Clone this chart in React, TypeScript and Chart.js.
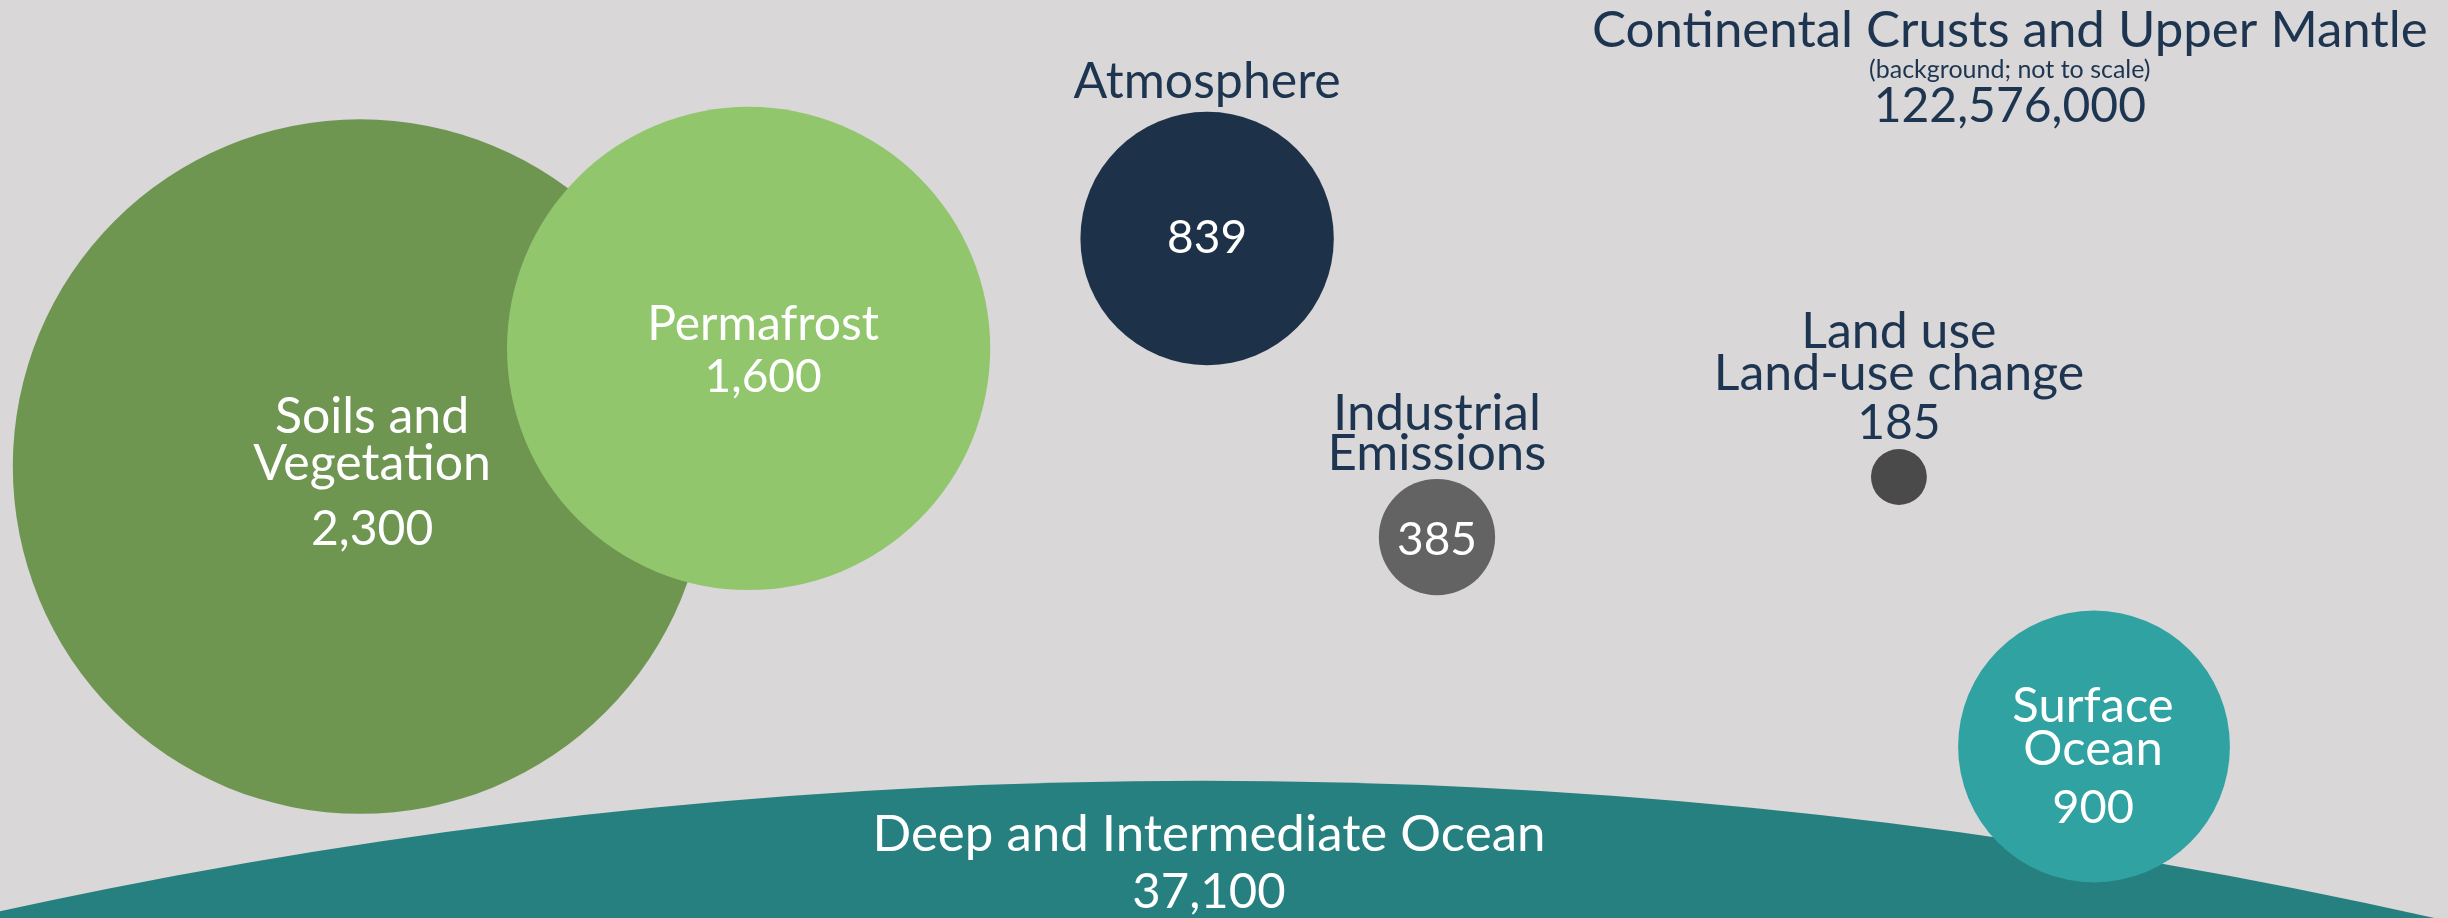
import { useEffect, useRef } from "react";
import { Chart, registerables } from "chart.js";

Chart.register(...registerables);

// ---- data ----
const reservoirNames = [
  "Deep and Intermediate Ocean",
  "Soils and Vegetation",
  "Permafrost",
  "Atmosphere",
  "Industrial Emissions",
  "Land use Land-use change",
  "Surface Ocean",
];
const nameLines = [
  ["Deep and Intermediate Ocean"],
  ["Soils and", "Vegetation"],
  ["Permafrost"],
  ["Atmosphere"],
  ["Industrial", "Emissions"],
  ["Land use", "Land-use change"],
  ["Surface", "Ocean"],
];
const carbonStocks = [37100, 2300, 1600, 839, 385, 185, 900];
const valueLabels = ["37,100", "2,300", "1,600", "839", "385", "185", "900"];
// layout position of each bubble (x: 0-100 across, y: 0-100 down)
const layoutX = [49.1, 14.71, 30.58, 49.31, 58.7, 77.57, 85.54];
const layoutY = [695.3, 50.82, 37.96, 25.98, 58.5, 51.96, 81.32];

const backgroundTitle = "Continental Crusts and Upper Mantle";
const backgroundNote = "(background; not to scale)";
const backgroundValue = "122,576,000";

// ---- styles ----
const BG = "#D9D7D8";
const NAVY = "#1D3550";
const WHITE = "#FFFFFF";
const bubbleColors = ["#25807F", "#6E9651", "#92C66C", "#1D3149", "#636363", "#4A4A4A", "#30A2A2"];
const PX_PER_UNIT = 0.151; // bubble radius in px per unit of stock
const FONT = "Lato, 'Open Sans', sans-serif";

type Line = { text: string; ref: "center" | "top"; dy: number; color: string; size: number };

function labelSpec(i: number): { dx: number; lines: Line[] } {
  const n = nameLines[i];
  const v = valueLabels[i];
  switch (i) {
    case 0:
      return { dx: 7, lines: [
        { text: n[0], ref: "top", dy: 70, color: WHITE, size: 51 },
        { text: v, ref: "top", dy: 127, color: WHITE, size: 49 },
      ] };
    case 1:
      return { dx: 12, lines: [
        { text: n[0], ref: "center", dy: -33.5, color: WHITE, size: 50 },
        { text: n[1], ref: "center", dy: 13.5, color: WHITE, size: 50 },
        { text: v, ref: "center", dy: 78.5, color: WHITE, size: 48 },
      ] };
    case 2:
      return { dx: 14.5, lines: [
        { text: n[0], ref: "center", dy: -8.5, color: WHITE, size: 48 },
        { text: v, ref: "center", dy: 43.5, color: WHITE, size: 46 },
      ] };
    case 3:
      return { dx: 0, lines: [
        { text: n[0], ref: "top", dy: -13.5, color: NAVY, size: 50 },
        { text: v, ref: "center", dy: 14.5, color: WHITE, size: 46 },
      ] };
    case 4:
      return { dx: 0, lines: [
        { text: n[0], ref: "top", dy: -49, color: NAVY, size: 51 },
        { text: n[1], ref: "top", dy: -9, color: NAVY, size: 51 },
        { text: v, ref: "center", dy: 18, color: WHITE, size: 46 },
      ] };
    case 5:
      return { dx: 0, lines: [
        { text: n[0], ref: "top", dy: -101, color: NAVY, size: 50 },
        { text: n[1], ref: "top", dy: -59, color: NAVY, size: 50 },
        { text: v, ref: "top", dy: -10, color: NAVY, size: 48 },
      ] };
    default:
      return { dx: -1, lines: [
        { text: n[0], ref: "center", dy: -24.5, color: WHITE, size: 49 },
        { text: n[1], ref: "center", dy: 18.5, color: WHITE, size: 49 },
        { text: v, ref: "center", dy: 76.5, color: WHITE, size: 47 },
      ] };
  }
}

function drawText(ctx: CanvasRenderingContext2D, text: string, x: number, y: number, size: number, color: string) {
  ctx.save();
  ctx.font = `${size}px ${FONT}`;
  ctx.fillStyle = color;
  ctx.textAlign = "center";
  ctx.textBaseline = "alphabetic";
  ctx.fillText(text, x, y);
  ctx.restore();
}

const backgroundPlugin = {
  id: "bgFill",
  beforeDraw(chart: any) {
    const { ctx, width, height } = chart;
    ctx.save();
    ctx.fillStyle = BG;
    ctx.fillRect(0, 0, width, height);
    ctx.restore();
  },
};

const labelsPlugin = {
  id: "reservoirLabels",
  afterDatasetsDraw(chart: any) {
    const ctx = chart.ctx as CanvasRenderingContext2D;
    const area = chart.chartArea;
    const w = area.right - area.left;
    const cx = area.left + w * 0.821;
    drawText(ctx, backgroundTitle, cx, area.top + 47, 51, NAVY);
    drawText(ctx, backgroundNote, cx, area.top + 78, 25, NAVY);
    drawText(ctx, backgroundValue, cx, area.top + 122, 48, NAVY);

    const meta = chart.getDatasetMeta(0);
    meta.data.forEach((el: any, i: number) => {
      const r = el.options.radius;
      const spec = labelSpec(i);
      spec.lines.forEach((ln) => {
        const base = ln.ref === "top" ? el.y - r : el.y;
        drawText(ctx, ln.text, el.x + spec.dx, base + ln.dy, ln.size, ln.color);
      });
    });
  },
};

export default function App() {
  const canvasRef = useRef<HTMLCanvasElement | null>(null);

  useEffect(() => {
    document.body.style.margin = "0";
    document.body.style.overflow = "hidden";
    document.body.style.background = BG;
    const canvas = canvasRef.current!;
    const chart = new Chart(canvas, {
      type: "bubble",
      data: {
        labels: reservoirNames,
        datasets: [
          {
            label: "Carbon stock",
            data: carbonStocks.map((v, i) => ({ x: layoutX[i], y: layoutY[i], r: v * PX_PER_UNIT })),
            backgroundColor: bubbleColors,
            borderWidth: 0,
            hoverRadius: 0,
            clip: false as any,
          },
        ],
      },
      options: {
        responsive: false,
        animation: false,
        events: [],
        layout: { padding: 0, autoPadding: false },
        plugins: {
          legend: { display: false },
          tooltip: { enabled: false },
          title: { display: false },
        },
        scales: {
          x: { type: "linear", min: 0, max: 100, display: false },
          y: { type: "linear", min: 0, max: 100, reverse: true, display: false },
        },
      },
      plugins: [backgroundPlugin, labelsPlugin],
    });
    return () => chart.destroy();
  }, []);

  return (
    <div style={{ width: 2448, height: 918 }}>
      <canvas ref={canvasRef} width={2448} height={918} style={{ display: "block" }} />
    </div>
  );
}
